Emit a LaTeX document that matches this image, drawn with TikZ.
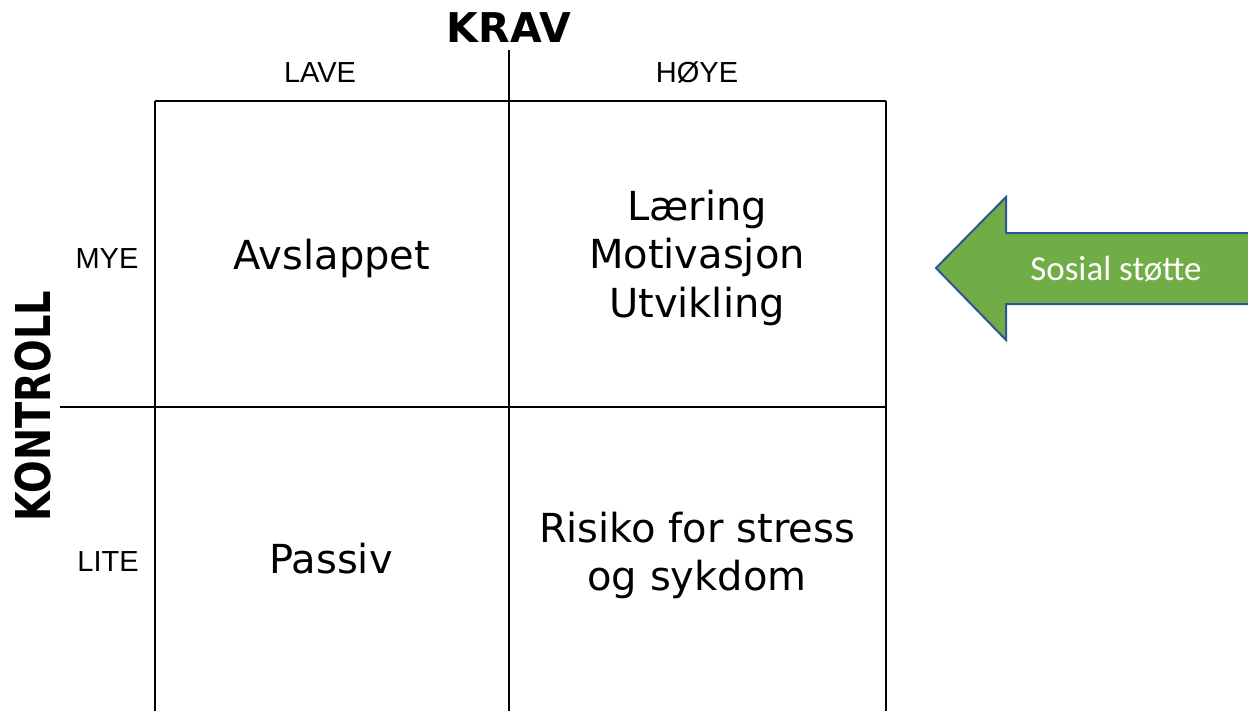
\documentclass[tikz,border=0pt]{standalone}
\usepackage{fontspec}
\setmainfont{DejaVu Sans}
\newfontfamily\lblfont{Liberation Sans}
\newfontfamily\calfont{Carlito}
\definecolor{arrowgreen}{HTML}{70AD47}
\definecolor{arrowblue}{HTML}{2F5597}
\begin{document}
\begin{tikzpicture}[x=1pt,y=-1pt,
  gridline/.style={line width=2.4pt,black},
  celltext/.style={font=\fontsize{40}{49}\selectfont,anchor=base,inner sep=0pt},
  axislbl/.style={font=\lblfont\fontsize{29}{33}\selectfont,anchor=base,inner sep=0pt},
  headlbl/.style={font=\bfseries\fontsize{41}{48}\selectfont,inner sep=0pt}]
\useasboundingbox (0,0) rectangle (1248,710);
% grid coordinates
\coordinate (tl) at (155,101);
\coordinate (tm) at (509,101);
\coordinate (tr) at (886,101);
\coordinate (mtop) at (509,50);
\coordinate (ml) at (60,407);
\coordinate (mr) at (886,407);
\coordinate (bl) at (155,712);
\coordinate (bm) at (509,712);
\coordinate (br) at (886,712);
\draw[gridline] (tl) -- (tr);
\draw[gridline] (ml) -- (mr);
\draw[gridline] (tl) -- (bl);
\draw[gridline] (mtop) -- (bm);
\draw[gridline] (tr) -- (br);
% headings
\node[headlbl,anchor=base] (krav) at (509,42) {KRAV};
\node[headlbl,anchor=center] (kontroll) at (33,406) {\rotatebox{90}{\scalebox{0.8}[1]{\fontsize{48}{52}\selectfont KONTROLL}}};
% axis labels
\node[axislbl] (lave) at (320,82) {LAVE};
\node[axislbl] (hoye) at (697,82) {HØYE};
\node[axislbl] (mye) at (107,268) {MYE};
\node[axislbl] (lite) at (108,571) {LITE};
% cell texts
\node[celltext] (avs) at (332,269) {Avslappet};
\node[celltext] (laer) at (697,220) {Læring};
\node[celltext] (mot) at (697,268) {Motivasjon};
\node[celltext] (utv) at (697,317) {Utvikling};
\node[celltext] (pas) at (331,573) {Passiv};
\node[celltext] (ris) at (697,542) {Risiko for stress};
\node[celltext] (syk) at (697,590) {og sykdom};
% arrow
\coordinate (a1) at (1252,233);
\coordinate (a2) at (1006,233);
\coordinate (a3) at (1006,197);
\coordinate (a4) at (936,268);
\coordinate (a5) at (1006,340);
\coordinate (a6) at (1006,304);
\coordinate (a7) at (1252,304);
\fill[arrowgreen] (a1) -- (a2) -- (a3) -- (a4) -- (a5) -- (a6) -- (a7) -- cycle;
\draw[arrowblue,line width=2pt,line join=miter] (a1) -- (a2) -- (a3) -- (a4) -- (a5) -- (a6) -- (a7);
\node[font=\calfont\fontsize{35}{40}\selectfont,text=white,anchor=base,inner sep=0pt] (sos) at (1116,280) {Sosial støtte};
\end{tikzpicture}
\end{document}
